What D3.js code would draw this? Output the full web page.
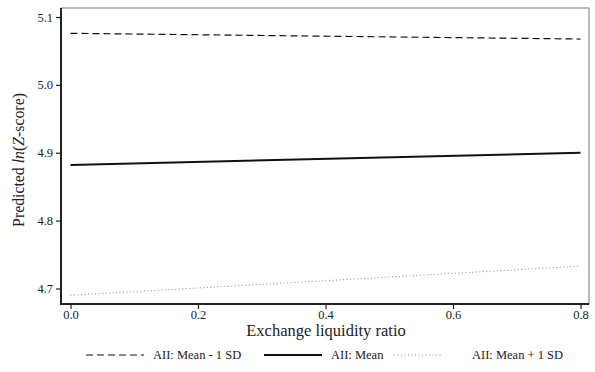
<!DOCTYPE html>
<html><head><meta charset="utf-8">
<script src="https://cdn.jsdelivr.net/npm/d3@7"></script>
<style>body{margin:0;background:#fff}svg{display:block}text{font-family:"Liberation Serif","Times New Roman",serif;fill:#222}</style>
</head><body><svg id="c" width="595" height="372"></svg>
<script>
const xValues = [0.0, 0.8];
const seriesNames = ["AII: Mean - 1 SD", "AII: Mean", "AII: Mean + 1 SD"];
const meanMinus1SD = [5.076, 5.0675];
const meanValues = [4.882, 4.900];
const meanPlus1SD = [4.690, 4.733];
const xTicks = [0.0, 0.2, 0.4, 0.6, 0.8];
const yTicks = [4.7, 4.8, 4.9, 5.0, 5.1];

const svg = d3.select("#c");
const L = 61, T = 8, R = 589, B = 304;
const x = d3.scaleLinear().domain([0, 0.8]).range([70.5, 580.5]);
const y = d3.scaleLinear().domain([4.7, 5.1]).range([288.5, 17]);

svg.append("rect").attr("x", L).attr("y", T).attr("width", R - L).attr("height", B - T)
  .attr("fill", "none").attr("stroke", "#777").attr("stroke-width", 1);

const yAxis = svg.append("g").attr("transform", `translate(${L},0)`)
  .call(d3.axisLeft(y).tickValues(yTicks).tickFormat(d3.format(".1f")).tickSize(5).tickSizeOuter(0));
const xAxis = svg.append("g").attr("transform", `translate(0,${B})`)
  .call(d3.axisBottom(x).tickValues(xTicks).tickFormat(d3.format(".1f")).tickSize(5).tickSizeOuter(0));
[yAxis, xAxis].forEach(g => {
  g.select(".domain").remove();
  g.selectAll(".tick line").attr("stroke", "#222").attr("stroke-width", 1.2);
  g.selectAll("text").style("font-size", "12.5px").attr("fill", "#222");
});
xAxis.selectAll("text").attr("y", 15).attr("dy", null).attr("dominant-baseline", "auto");
yAxis.selectAll("text").attr("x", -8);
svg.append("line").attr("x1", L).attr("x2", L).attr("y1", T).attr("y2", B + 1).attr("stroke", "#222").attr("stroke-width", 2);
svg.append("line").attr("x1", L - 1).attr("x2", R).attr("y1", B).attr("y2", B).attr("stroke", "#222").attr("stroke-width", 2);

const styles = [
  {dash: "7,4", w: 1.2, c: "#111"},
  {dash: null, w: 2, c: "#111"},
  {dash: "1,2.5", w: 1, c: "#888"}
];
const series = [meanMinus1SD, meanValues, meanPlus1SD];
const line = d3.line().x((d, i) => x(xValues[i])).y(d => y(d));
series.forEach((s, k) => {
  svg.append("path").datum(s).attr("d", line).attr("fill", "none")
    .attr("stroke", styles[k].c).attr("stroke-width", styles[k].w)
    .attr("stroke-dasharray", styles[k].dash);
});

svg.append("text").attr("x", 326).attr("y", 336).attr("text-anchor", "middle")
  .style("font-size", "16.5px").text("Exchange liquidity ratio");
const yt = svg.append("text").attr("transform", "translate(24,160) rotate(-90)")
  .attr("text-anchor", "middle").style("font-size", "15.8px");
yt.append("tspan").text("Predicted ");
yt.append("tspan").style("font-style", "italic").text("ln");
yt.append("tspan").text("(");
yt.append("tspan").style("font-style", "italic").text("Z");
yt.append("tspan").text("-score)");

const legX = [[86, 144, 153], [264, 322, 331], [394, 443, 472]];
seriesNames.forEach((n, k) => {
  svg.append("line").attr("x1", legX[k][0]).attr("x2", legX[k][1]).attr("y1", 355).attr("y2", 355)
    .attr("stroke", styles[k].c).attr("stroke-width", styles[k].w).attr("stroke-dasharray", styles[k].dash);
  svg.append("text").attr("x", legX[k][2]).attr("y", 359).style("font-size", "12.5px").text(n);
});
</script></body></html>
